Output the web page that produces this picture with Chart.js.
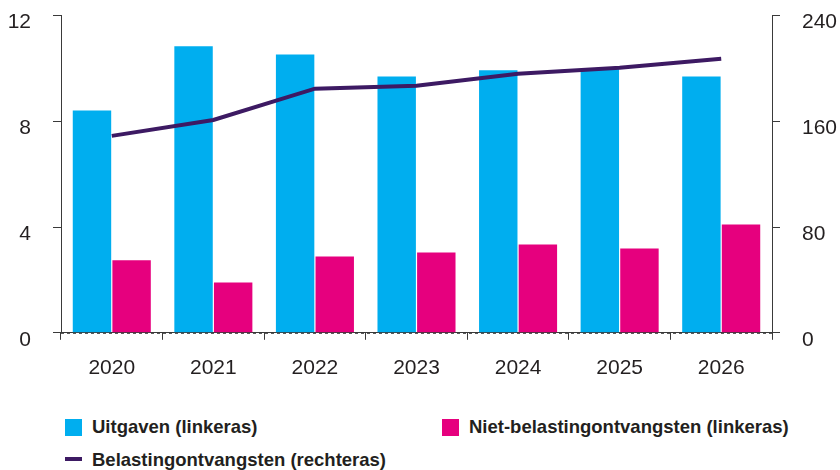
<!DOCTYPE html>
<html>
<head>
<meta charset="utf-8">
<script src="https://cdn.jsdelivr.net/npm/chart.js@4"></script>
<style>
  html, body { margin: 0; padding: 0; background: #fff; }
  #wrap { position: relative; width: 840px; height: 470px; overflow: hidden; }
  #chart { position: absolute; left: 0; top: -19px; }
  .legend { position: absolute; font-family: "Liberation Sans", Arial, sans-serif; font-weight: bold;
            font-size: 18.5px; color: #231f20; white-space: nowrap; }
  .box { position: absolute; width: 17px; height: 17px; }
  .dash { position: absolute; width: 17px; height: 4px; }
</style>
</head>
<body>
<div id="wrap">
  <canvas id="chart" width="840" height="416"></canvas>
  <div class="box" style="left:65px;top:419px;background:#00aeef"></div>
  <div class="legend" style="left:92px;top:416px">Uitgaven (linkeras)</div>
  <div class="box" style="left:442px;top:419px;background:#e6007e"></div>
  <div class="legend" style="left:469px;top:416px">Niet-belastingontvangsten (linkeras)</div>
  <div class="dash" style="left:65px;top:457px;background:#3d1a63"></div>
  <div class="legend" style="left:92px;top:449px">Belastingontvangsten (rechteras)</div>
</div>
<script>
// Categories and series
const years = ['2020', '2021', '2022', '2023', '2024', '2025', '2026'];
const uitgaven = [8.41, 10.84, 10.53, 9.70, 9.93, 9.97, 9.70];
const nietBelasting = [2.74, 1.90, 2.89, 3.04, 3.34, 3.19, 4.10];
const belasting = [149, 161, 184.7, 187, 196, 200.6, 207.4];

const leftTicks = [0, 4, 8, 12];
const rightTicks = [0, 80, 160, 240];

const textColor = '#231f20';
const axisColor = '#3a3a3a';

// dashed zero line drawn over the bars
const zeroDash = {
  id: 'zeroDash',
  afterDatasetsDraw(chart) {
    const ctx = chart.ctx;
    const area = chart.chartArea;
    const y = chart.scales.y.getPixelForValue(0);
    ctx.save();
    ctx.strokeStyle = '#333';
    ctx.lineWidth = 1;
    ctx.setLineDash([3, 3]);
    ctx.beginPath();
    ctx.moveTo(area.left, y + 0.5);
    ctx.lineTo(area.right, y + 0.5);
    ctx.stroke();
    ctx.restore();
  }
};

const ctx = document.getElementById('chart').getContext('2d');
const chart = new Chart(ctx, {
  type: 'bar',
  data: {
    labels: years,
    datasets: [{
      type: 'line',
      label: 'Belastingontvangsten (rechteras)',
      data: belasting,
      yAxisID: 'y2',
      borderColor: '#3d1a63',
      borderWidth: 4,
      pointRadius: 0,
      tension: 0,
      order: 0
    }, {
      label: 'Uitgaven (linkeras)',
      data: uitgaven,
      backgroundColor: '#00aeef',
      yAxisID: 'y',
      categoryPercentage: 0.78,
      barPercentage: 0.97,
      order: 1
    }, {
      label: 'Niet-belastingontvangsten (linkeras)',
      data: nietBelasting,
      backgroundColor: '#e6007e',
      yAxisID: 'y',
      categoryPercentage: 0.78,
      barPercentage: 0.97,
      order: 1
    }]
  },
  options: {
    responsive: false,
    animation: false,
    layout: { padding: { top: 6, bottom: 0, left: 0, right: 0 } },
    plugins: {
      legend: { display: false },
      tooltip: { enabled: false }
    },
    scales: {
      x: {
        grid: { drawOnChartArea: false, tickLength: 7, color: axisColor },
        border: { color: axisColor },
        ticks: { color: textColor, font: { family: 'Liberation Sans', size: 21 }, padding: 16 }
      },
      y: {
        position: 'left',
        min: 0,
        max: 12,
        afterBuildTicks: (scale) => { scale.ticks = leftTicks.map(v => ({ value: v })); },
        afterFit: (scale) => { scale.width = 61; },
        grid: { drawOnChartArea: false, tickLength: 8, color: axisColor },
        border: { color: axisColor },
        ticks: { color: textColor, font: { family: 'Liberation Sans', size: 21 }, padding: 22, labelOffset: 7 }
      },
      y2: {
        position: 'right',
        min: 0,
        max: 240,
        afterBuildTicks: (scale) => { scale.ticks = rightTicks.map(v => ({ value: v })); },
        afterFit: (scale) => { scale.width = 68; },
        grid: { drawOnChartArea: false, tickLength: 8, color: axisColor },
        border: { color: axisColor },
        ticks: { color: textColor, font: { family: 'Liberation Sans', size: 21 }, padding: 22, labelOffset: 7 }
      }
    }
  },
  plugins: [zeroDash]
});
</script>
</body>
</html>
